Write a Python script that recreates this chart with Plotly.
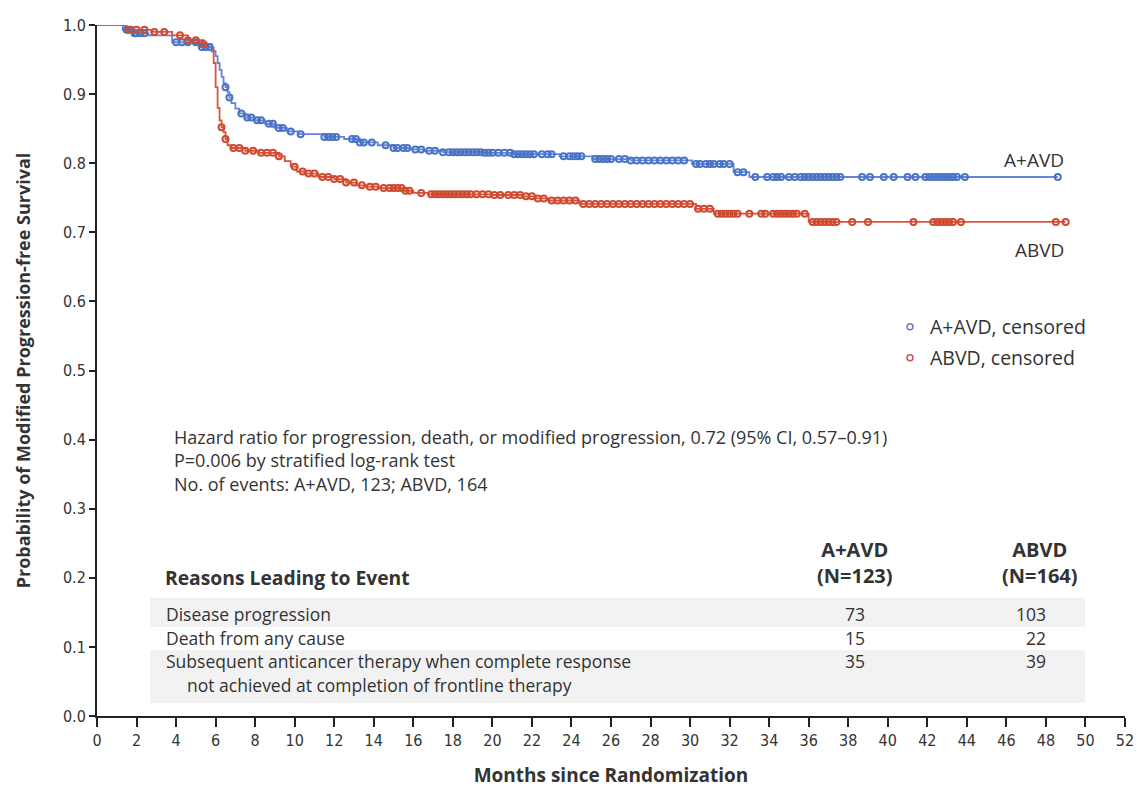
import numpy as np
import plotly.graph_objects as go

# ---------------- data ----------------
aavd_time = [0, 1.3, 1.8, 2.6, 3.8, 5.2, 5.8, 6.0, 6.1, 6.2, 6.3, 6.4, 6.5, 6.6, 6.7, 6.8, 7.0, 7.2, 7.5,
             8.0, 8.5, 9.0, 9.6, 10.2, 11.5, 12.5, 13.3, 14.2, 15.0, 15.8, 16.5, 17.5, 19.5, 21.0, 23.4,
             25.1, 27.0, 30.1, 32.2, 33.0, 48.6]
aavd_surv = [1.0, 0.993, 0.988, 0.985, 0.975, 0.968, 0.962, 0.955, 0.945, 0.935, 0.925, 0.916, 0.910,
             0.903, 0.895, 0.887, 0.879, 0.872, 0.866, 0.862, 0.857, 0.851, 0.846, 0.842, 0.838, 0.835,
             0.830, 0.826, 0.822, 0.820, 0.818, 0.816, 0.815, 0.813, 0.810, 0.806, 0.804, 0.799, 0.787,
             0.780, 0.780]

abvd_time = [0, 1.5, 2.8, 3.8, 4.6, 5.4, 5.8, 5.9, 6.0, 6.1, 6.2, 6.3, 6.4, 6.5, 6.6, 6.8, 7.5, 8.2,
             9.2, 9.5, 9.8, 10.1, 10.5, 11.2, 12.0, 12.6, 13.1, 13.6, 14.2, 15.5, 16.0, 16.8, 20.0, 21.5,
             22.2, 22.8, 24.4, 30.3, 31.2, 36.0, 49.0]
abvd_surv = [1.0, 0.993, 0.990, 0.985, 0.978, 0.972, 0.967, 0.945, 0.910, 0.880, 0.862, 0.852, 0.845,
             0.835, 0.826, 0.822, 0.818, 0.815, 0.810, 0.803, 0.795, 0.788, 0.785, 0.780, 0.777, 0.772,
             0.768, 0.766, 0.764, 0.760, 0.757, 0.755, 0.754, 0.752, 0.749, 0.746, 0.741, 0.734, 0.727,
             0.715, 0.715]

aavd_censor = [1.5, 1.7, 1.9, 2.0, 2.2, 2.4, 4.0, 4.3, 4.6, 5.0, 5.3, 5.5, 5.7, 6.5, 6.7, 7.3, 7.6,
               7.8, 8.1, 8.3, 8.7, 8.9, 9.2, 9.4, 9.8, 10.3, 11.5, 11.7, 11.9, 12.1, 12.9, 13.1, 13.3,
               13.5, 13.9, 14.6, 15.0, 15.2, 15.5, 15.7, 16.1, 16.4, 16.8, 17.1, 17.5, 17.8, 18.0, 18.2,
               18.4, 18.6, 18.8, 19.0, 19.2, 19.4, 19.6, 19.8, 20.0, 20.3, 20.6, 20.9, 21.1, 21.3, 21.5,
               21.7, 21.9, 22.1, 22.5, 22.8, 23.0, 23.6, 23.9, 24.1, 24.3, 24.5, 25.2, 25.4, 25.6, 25.8,
               26.0, 26.4, 26.7, 27.0, 27.3, 27.6, 27.9, 28.2, 28.5, 28.8, 29.1, 29.4, 29.7, 30.3, 30.5,
               30.8, 31.0, 31.2, 31.5, 31.7, 32.0, 32.4, 32.7, 33.3, 33.9, 34.2, 34.4, 34.6, 35.0, 35.3,
               35.6, 35.8, 36.0, 36.2, 36.4, 36.6, 36.8, 37.0, 37.2, 37.4, 37.6, 38.7, 39.1, 39.8, 40.3,
               41.0, 41.4, 41.9, 42.1, 42.3, 42.5, 42.7, 42.9, 43.1, 43.3, 43.5, 43.9, 48.6]

abvd_censor = [1.6, 2.0, 2.4, 2.9, 3.4, 4.2, 4.6, 5.0, 5.4, 6.3, 6.5, 6.9, 7.2, 7.5, 7.9, 8.3, 8.6,
               8.9, 9.2, 10.0, 10.4, 10.7, 11.0, 11.4, 11.7, 12.0, 12.3, 12.6, 13.0, 13.4, 13.8, 14.1,
               14.5, 14.8, 15.0, 15.2, 15.4, 15.6, 15.8, 16.4, 16.9, 17.1, 17.3, 17.5, 17.7, 17.9, 18.1,
               18.3, 18.5, 18.7, 18.9, 19.2, 19.5, 19.8, 20.1, 20.4, 20.8, 21.1, 21.4, 21.7, 22.0, 22.3,
               22.6, 23.0, 23.3, 23.6, 23.9, 24.2, 24.6, 24.9, 25.2, 25.5, 25.8, 26.1, 26.4, 26.7, 27.0,
               27.3, 27.6, 27.9, 28.2, 28.5, 28.8, 29.1, 29.4, 29.7, 30.0, 30.4, 30.7, 31.0, 31.4, 31.6,
               31.8, 32.0, 32.2, 32.4, 33.0, 33.6, 33.8, 34.2, 34.4, 34.6, 34.8, 35.0, 35.2, 35.4, 35.8,
               36.2, 36.4, 36.6, 36.8, 37.0, 37.2, 37.4, 38.2, 39.0, 41.3, 42.3, 42.5, 42.7, 42.9, 43.1,
               43.3, 43.7, 48.5, 49.0]

x_ticks = list(range(0, 53, 2))
y_ticks = [0.0, 0.1, 0.2, 0.3, 0.4, 0.5, 0.6, 0.7, 0.8, 0.9, 1.0]

stats_lines = ["Hazard ratio for progression, death, or modified progression, 0.72 (95% CI, 0.57\u20130.91)",
               "P=0.006 by stratified log-rank test",
               "No. of events: A+AVD, 123; ABVD, 164"]

table_reasons = ["Disease progression", "Death from any cause",
                 "Subsequent anticancer therapy when complete response"]
table_reason_cont = "not achieved at completion of frontline therapy"
table_aavd = [73, 15, 35]
table_abvd = [103, 22, 39]

# ---------------- styling ----------------
BLUE_LINE = "#6584d8"
BLUE_MK = "#4a74c6"
RED_LINE = "#d9533f"
RED_MK = "#cf4a2f"
TXT = "#333333"
BODY_FONT = "'Open Sans', 'Noto Sans', sans-serif"
COND_FONT = "'Liberation Sans Narrow', 'DejaVu Sans Condensed', 'Roboto Condensed', sans-serif"
TITLE_FONT = "'Open Sans', sans-serif"

L, R, T, B = 97, 12, 25, 72
W, H = 1137, 788
PW, PH = W - L - R, H - T - B


def px(xp):
    return (xp - L) / PW


def py(yp):
    return (H - B - yp) / PH


def step_at(times, surv, c):
    times = np.asarray(times)
    surv = np.asarray(surv)
    idx = np.searchsorted(times, np.asarray(c), side="right") - 1
    return surv[idx]


fig = go.Figure()

fig.add_trace(go.Scatter(x=aavd_time, y=aavd_surv, mode="lines", line=dict(color=BLUE_LINE, width=1.8, shape="hv"),
                         showlegend=False, hoverinfo="skip", cliponaxis=False))
fig.add_trace(go.Scatter(x=abvd_time, y=abvd_surv, mode="lines", line=dict(color=RED_LINE, width=1.8, shape="hv"),
                         showlegend=False, hoverinfo="skip", cliponaxis=False))

fig.add_trace(go.Scatter(x=aavd_censor, y=step_at(aavd_time, aavd_surv, aavd_censor), mode="markers",
                         showlegend=False,
                         marker=dict(symbol="circle-open", size=6, color=BLUE_MK, line=dict(width=2, color=BLUE_MK)),
                         cliponaxis=False))
fig.add_trace(go.Scatter(x=abvd_censor, y=step_at(abvd_time, abvd_surv, abvd_censor), mode="markers",
                         showlegend=False,
                         marker=dict(symbol="circle-open", size=6, color=RED_MK, line=dict(width=2, color=RED_MK)),
                         cliponaxis=False))

# legend-only entries
fig.add_trace(go.Scatter(x=[None], y=[None], mode="markers", name="A+AVD, censored", legend="legend",
                         marker=dict(symbol="circle-open", size=6, color="#6f78d0", line=dict(width=1.5, color="#6f78d0"))))
fig.add_trace(go.Scatter(x=[None], y=[None], mode="markers", name="ABVD, censored", legend="legend2",
                         marker=dict(symbol="circle-open", size=6, color="#d0505a", line=dict(width=1.5, color="#d0505a"))))

shapes = [
    dict(type="rect", xref="paper", yref="paper", x0=px(150), x1=px(1085), y0=py(627), y1=py(598),
         fillcolor="#f2f2f2", line=dict(width=0), layer="below"),
    dict(type="rect", xref="paper", yref="paper", x0=px(150), x1=px(1085), y0=py(703), y1=py(650),
         fillcolor="#f2f2f2", line=dict(width=0), layer="below"),
]

ann = []


def add_text(text, xpx, ypx, size=16, anchor="left", bold=False, font=BODY_FONT, align="left"):
    if bold:
        text = "<b>" + text.replace("<br>", "</b><br><b>") + "</b>"
    ann.append(dict(text=text, xref="paper", yref="paper", x=px(xpx), y=py(ypx), xanchor=anchor,
                    yanchor="middle", showarrow=False, align=align,
                    font=dict(family=font, size=size, color=TXT)))


add_text("A+AVD", 1066, 160, size=19, anchor="right")
add_text("ABVD", 1066, 250, size=19, anchor="right")

add_text("<br>".join(stats_lines), 172, 460, size=18)

add_text("Reasons Leading to Event", 163, 577, size=19.3, bold=True)
add_text("A+AVD<br>(N=123)", 855, 562, size=20, anchor="center", bold=True, align="center")
add_text("ABVD<br>(N=164)", 1040, 562, size=20, anchor="center", bold=True, align="center")

row_y = [614, 638, 661]
for i, r in enumerate(table_reasons):
    add_text(r, 164, row_y[i], size=17.5)
add_text(table_reason_cont, 185, 685, size=17.5)
for i in range(3):
    add_text(str(table_aavd[i]), 855, row_y[i], size=17.5, anchor="center")
    add_text(str(table_abvd[i]), 1048, row_y[i], size=17.5, anchor="right")

legend_common = dict(xanchor="left", yanchor="middle", bgcolor="rgba(0,0,0,0)",
                     font=dict(family=BODY_FONT, size=19.5, color=TXT), itemwidth=30)

fig.update_layout(
    width=W, height=H,
    margin=dict(l=L, r=R, t=T, b=B, pad=0, autoexpand=False),
    paper_bgcolor="white", plot_bgcolor="white",
    shapes=shapes, annotations=ann,
    legend=dict(x=px(890), y=py(327), **legend_common),
    legend2=dict(x=px(890), y=py(358), **legend_common),
    xaxis=dict(range=[0, 52], tickvals=x_ticks, ticktext=[str(v) for v in x_ticks], automargin=False,
               showgrid=False, zeroline=False, showline=True, linecolor="#222", linewidth=2,
               ticks="outside", ticklen=9, tickwidth=1.5, tickcolor="#222",
               tickfont=dict(family=COND_FONT, size=16, color=TXT),
               title=dict(text="<b>Months since Randomization</b>", standoff=20,
                          font=dict(family=TITLE_FONT, size=19, color=TXT))),
    yaxis=dict(range=[0, 1], tickvals=y_ticks, ticktext=[f"{v:.1f}" for v in y_ticks], automargin=False,
               showgrid=False, zeroline=False, showline=True, linecolor="#222", linewidth=2,
               ticks="outside", ticklen=6, tickwidth=1.5, tickcolor="#222",
               tickfont=dict(family=COND_FONT, size=16, color=TXT),
               title=dict(text="<b>Probability of Modified Progression-free Survival</b>", standoff=28,
                          font=dict(family=TITLE_FONT, size=18, color=TXT))),
)

fig.write_html("out.html")
